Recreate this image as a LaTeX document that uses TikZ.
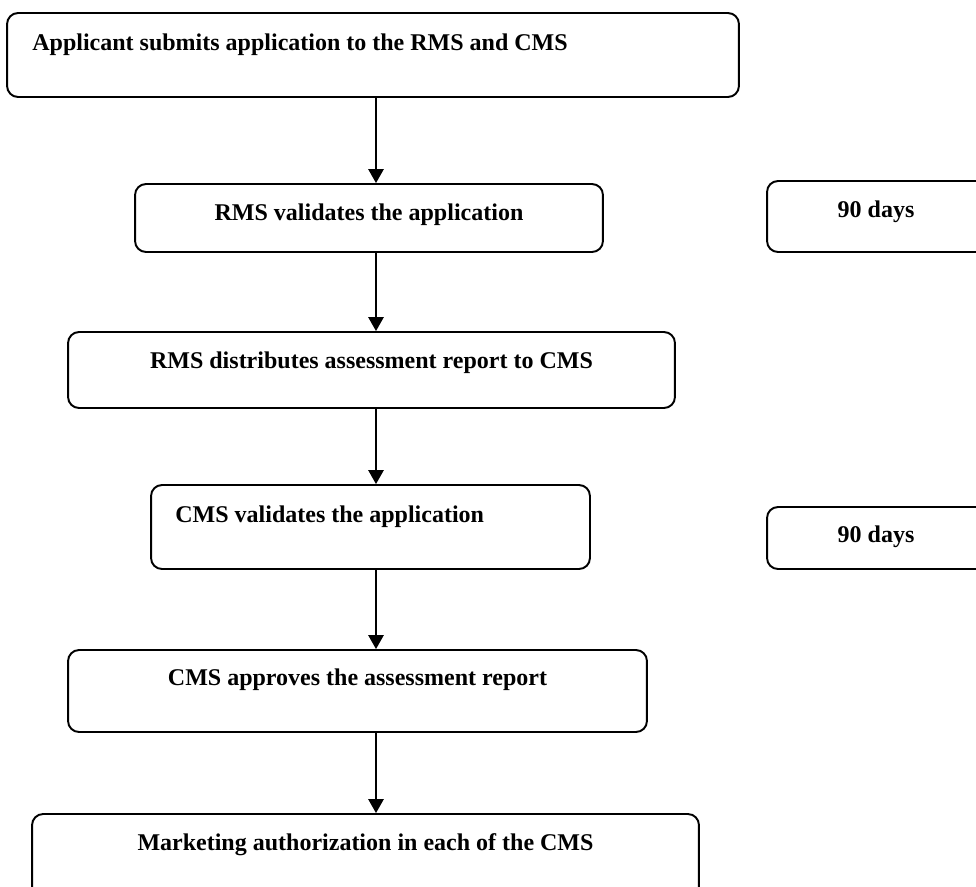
\documentclass[tikz,border=0pt]{standalone}
\usepackage{fontspec}
\setmainfont{Liberation Serif}
\usetikzlibrary{arrows.meta}
\tikzset{
  stepbox/.style={draw, line width=1.1pt, rounded corners=0.22cm, inner sep=0pt},
  lbl/.style={inner sep=0pt, font=\fontsize{13.66pt}{16pt}\selectfont\bfseries},
  arr/.style={line width=0.75pt, -{Triangle[length=0.28cm, width=0.31cm]}}
}
\begin{document}
\begin{tikzpicture}[x=0.02cm, y=-0.02cm]
\useasboundingbox (0,0) rectangle (976,886);
\clip (0,0) rectangle (976,886);
% boxes
\node[stepbox, minimum width=14.64cm, minimum height=1.68cm] (b1) at (373,55) {};
\node[stepbox, minimum width=9.36cm, minimum height=1.36cm] (b2) at (369,218) {};
\node[stepbox, minimum width=12.14cm, minimum height=1.52cm] (b3) at (371.5,370) {};
\node[stepbox, minimum width=8.78cm, minimum height=1.68cm] (b4) at (370.5,527) {};
\node[stepbox, minimum width=11.58cm, minimum height=1.64cm] (b5) at (357.5,691) {};
\node[stepbox, minimum width=13.34cm, minimum height=1.72cm] (b6) at (365.5,857) {};
\node[stepbox, minimum width=4.4cm, minimum height=1.42cm] (d1) at (877,216.5) {};
\node[stepbox, minimum width=4.4cm, minimum height=1.24cm] (d2) at (877,538) {};
% texts
\node[lbl, anchor=base west] (t1) at (32,50) {Applicant submits application to the RMS and CMS};
\node[lbl, anchor=base] (t2) at (369,220) {RMS validates the application};
\node[lbl, anchor=base] (t3) at (371.5,368) {RMS distributes assessment report to CMS};
\node[lbl, anchor=base west] (t4) at (175,522) {CMS validates the application};
\node[lbl, anchor=base] (t5) at (357.5,685) {CMS approves the assessment report};
\node[lbl, anchor=base] (t6) at (365.5,850) {Marketing authorization in each of the CMS};
\node[lbl, anchor=base] (t7) at (876,217) {90 days};
\node[lbl, anchor=base] (t8) at (876,542) {90 days};
% arrows
\coordinate (ax) at (376,0);
\draw[arr] (b1.south -| ax) -- (b2.north -| ax);
\draw[arr] (b2.south -| ax) -- (b3.north -| ax);
\draw[arr] (b3.south -| ax) -- (b4.north -| ax);
\draw[arr] (b4.south -| ax) -- (b5.north -| ax);
\draw[arr] (b5.south -| ax) -- (b6.north -| ax);
\end{tikzpicture}
\end{document}
